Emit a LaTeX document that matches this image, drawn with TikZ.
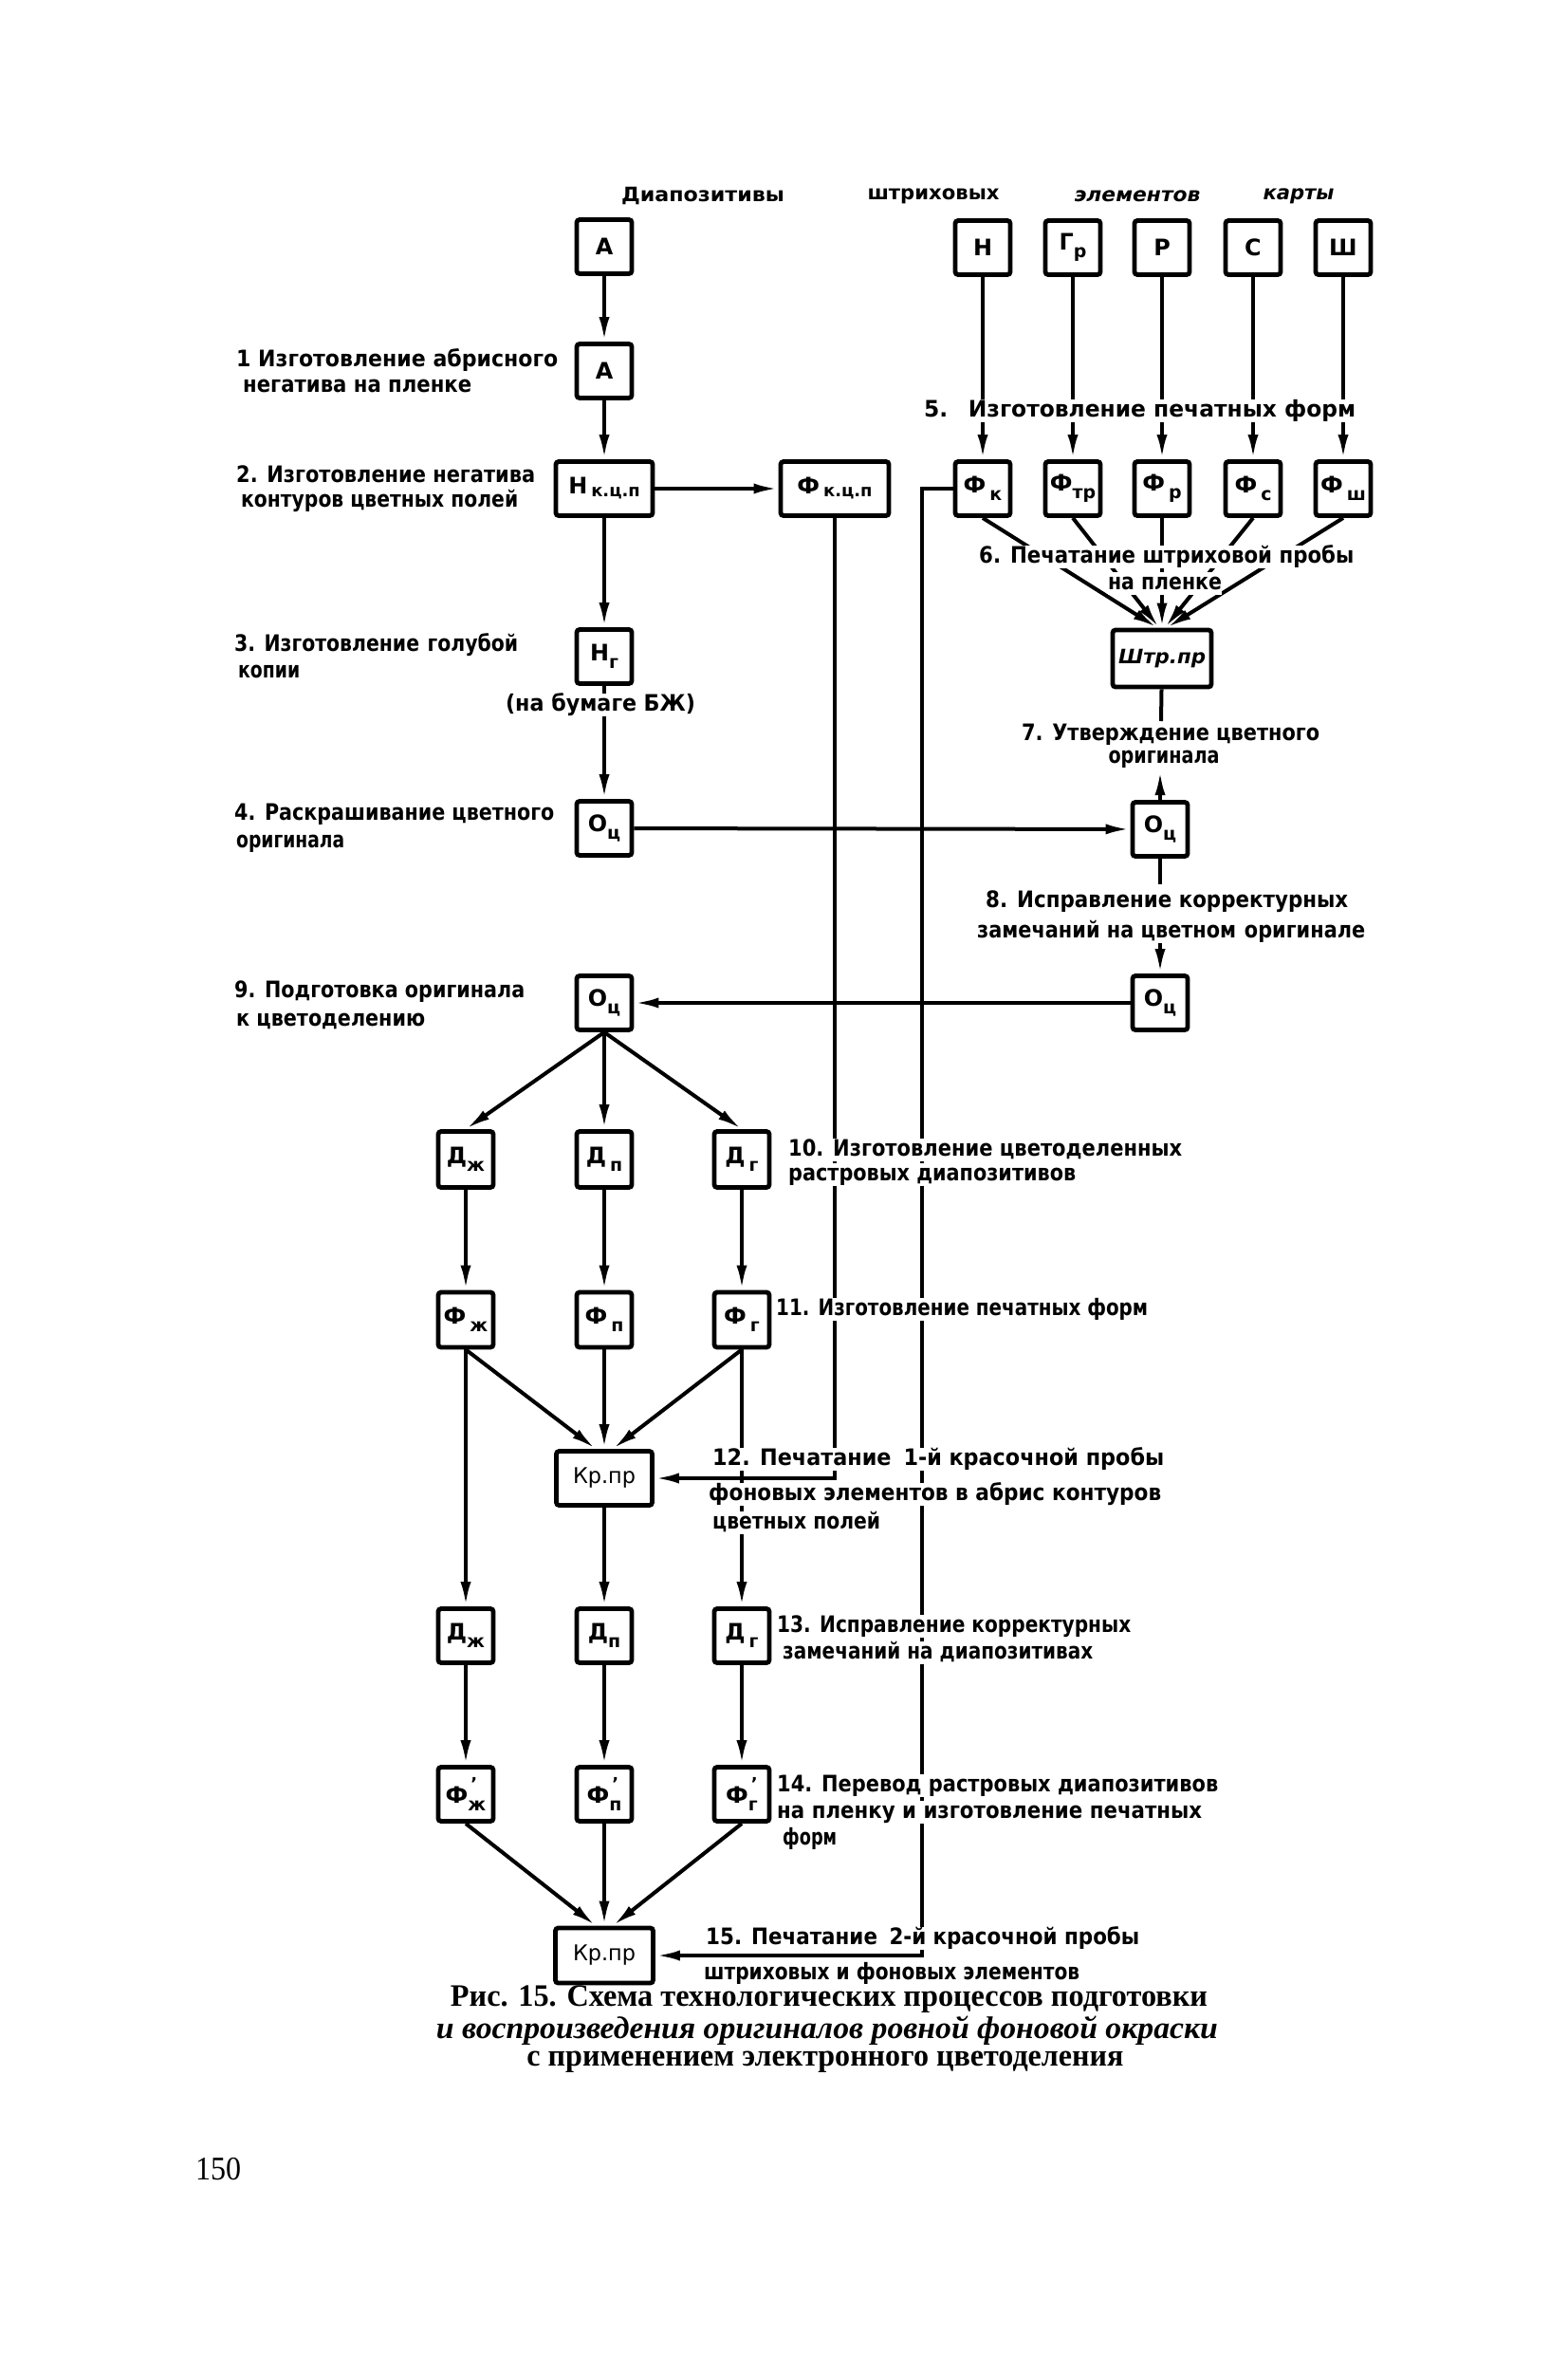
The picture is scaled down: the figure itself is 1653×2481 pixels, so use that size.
\documentclass[tikz,border=0pt]{standalone}
\usepackage{fontspec}
\usepackage{graphicx}
\setmainfont{DejaVu Sans}
\newfontfamily\capfont{Liberation Serif}
\usetikzlibrary{arrows.meta}
\newcommand\sbs[1]{\raisebox{-8bp}{\fontsize{19}{19}\selectfont #1}}
\newcommand\fw[2]{\resizebox{#1bp}{\height}{#2}}
\newcommand\prm{\rlap{\raisebox{14bp}{\fontsize{18}{18}\selectfont\kern3bp'}}}
\begin{document}
\begin{tikzpicture}[x=1bp,y=-1bp,
  bx/.style={draw, line width=4.8bp, rounded corners=3bp, minimum width=58bp,
    minimum height=57bp, inner sep=1bp, font=\fontsize{24}{24}\selectfont\bfseries},
  ln/.style={line width=4bp},
  arr/.style={line width=4bp, -{Latex[length=26bp,width=11bp]}},
  lbl/.style={fill=white, inner sep=0pt, text height=18bp, text depth=5.5bp,
    font=\fontsize{24}{24}\selectfont\bfseries},
  hdr/.style={inner sep=0pt, font=\fontsize{21}{21}\selectfont\bfseries},
  captxt/.style={inner sep=0pt, font=\capfont\bfseries\fontsize{33}{33}\selectfont}]
\fill[white] (0,0) rectangle (1653,2481);
\useasboundingbox (0,0) rectangle (1653,2481);

% header words
\node[hdr] (h1) at (741,207) {\fw{172}{Диапозитивы}};
\node[hdr] (h2) at (984,207) {\fw{139}{штриховых}};
\node[hdr] (h3) at (1199,207) {\fw{133}{\itshape элементов}};
\node[hdr] (h4) at (1369,207) {\fw{75}{\itshape карты}};

% left column boxes
\node[bx] (A1) at (637,260) {А};
\node[bx] (A2) at (637,391) {А};
\node[bx, minimum width=102bp] (Nkcp) at (637,515) {Н\,\raisebox{-3bp}{\fontsize{18}{18}\selectfont к.ц.п}};
\node[bx, minimum width=114bp] (Fkcp) at (880,515) {Ф\,\raisebox{-3bp}{\fontsize{18}{18}\selectfont к.ц.п}};
\node[bx] (Ng) at (637,692) {Н\sbs{г}};
\node[bx] (Oc4) at (637,873) {О\sbs{ц}};
\node[bx] (Oc9) at (637,1057) {О\sbs{ц}};

% top right boxes
\node[bx] (H) at (1036,261) {Н};
\node[bx] (Gr) at (1131,261) {Г\sbs{р}};
\node[bx] (R) at (1225,261) {Р};
\node[bx] (S) at (1321,261) {С};
\node[bx] (Sh) at (1416,261) {Ш};
\node[bx] (Fk) at (1036,515) {Ф\,\sbs{к}};
\node[bx] (Ftr) at (1131,515) {Ф\sbs{тр}};
\node[bx] (Fr) at (1225,515) {Ф\,\sbs{р}};
\node[bx] (Fs) at (1321,515) {Ф\,\sbs{с}};
\node[bx] (Fsh) at (1416,515) {Ф\,\sbs{ш}};
\node[bx, minimum width=104bp, minimum height=60bp, font=\fontsize{21}{21}\selectfont\bfseries\itshape] (Shtr) at (1225,694) {\fw{92}{Штр.пр}};
\node[bx] (R1) at (1223,874) {О\sbs{ц}};
\node[bx] (R2) at (1223,1057) {О\sbs{ц}};

% lower part
\node[bx, minimum height=59bp] (Dzh) at (491,1222) {Д\sbs{ж}};
\node[bx, minimum height=59bp] (Dp) at (637,1222) {Д\,\sbs{п}};
\node[bx, minimum height=59bp] (Dg) at (782,1222) {Д\,\sbs{г}};
\node[bx, minimum height=58bp] (Fzh) at (491,1391) {Ф\,\sbs{ж}};
\node[bx, minimum height=58bp] (Fp) at (637,1391) {Ф\,\sbs{п}};
\node[bx, minimum height=58bp] (Fg) at (782,1391) {Ф\,\sbs{г}};
\node[bx, minimum width=101bp, font=\fontsize{23}{23}\selectfont] (Kr1) at (637,1558) {\fw{66}{Кр.пр}};
\node[bx] (Dzh2) at (491,1724) {Д\sbs{ж}};
\node[bx] (Dp2) at (637,1724) {Д\sbs{п}};
\node[bx] (Dg2) at (782,1724) {Д\,\sbs{г}};
\node[bx] (Fzh2) at (491,1891) {Ф\prm\sbs{ж}};
\node[bx] (Fp2) at (637,1891) {Ф\prm\sbs{п}};
\node[bx] (Fg2) at (782,1891) {Ф\prm\sbs{г}};
\node[bx, minimum width=103bp, minimum height=58bp, font=\fontsize{23}{23}\selectfont] (Kr2) at (637,2061) {\fw{66}{Кр.пр}};

% coordinates
\coordinate (c1) at (972,515);
\coordinate (c7a) at (1224,760);
\coordinate (c7b) at (1223,812);
\coordinate (c8a) at (1223,932);
\coordinate (c8b) at (1223,993);

% connectors
\draw[arr] (A1) -- (A2);
\draw[arr] (A2) -- (Nkcp);
\draw[arr] (Nkcp) -- (Fkcp);
\draw[arr] (Nkcp) -- (Ng);
\draw[arr] (Ng) -- (Oc4);
\draw[arr] (Oc4) -- (R1);
\draw[arr] (H) -- (Fk);
\draw[arr] (Gr) -- (Ftr);
\draw[arr] (R) -- (Fr);
\draw[arr] (S) -- (Fs);
\draw[arr] (Sh) -- (Fsh);
\draw[arr] (Fk.south) -- ([xshift=-5bp]Shtr.north);
\draw[arr] (Ftr.south) -- ([xshift=-3bp]Shtr.north);
\draw[arr] (Fr.south) -- (Shtr.north);
\draw[arr] (Fs.south) -- ([xshift=3bp]Shtr.north);
\draw[arr] (Fsh.south) -- ([xshift=5bp]Shtr.north);
\draw[ln] (Shtr) -- (c7a);
\draw[arr] (R1) -- (c7b);
\draw[ln] (R1) -- (c8a);
\draw[arr] (c8b) -- (R2);
\draw[arr] (R2) -- (Oc9);
\draw[arr] (Fkcp.south) |- (Kr1.east);
\draw[arr] (Fk.west) -- (c1) |- (Kr2.east);
\draw[arr] (Oc9.south) -- (Dzh.north);
\draw[arr] (Oc9) -- (Dp);
\draw[arr] (Oc9.south) -- (Dg.north);
\draw[arr] (Dzh) -- (Fzh);
\draw[arr] (Dp) -- (Fp);
\draw[arr] (Dg) -- (Fg);
\draw[arr] (Fzh.south) -- ([xshift=-9bp]Kr1.north);
\draw[arr] (Fp) -- (Kr1);
\draw[arr] (Fg.south) -- ([xshift=9bp]Kr1.north);
\draw[arr] (Fzh) -- (Dzh2);
\draw[arr] (Kr1) -- (Dp2);
\draw[arr] (Fg) -- (Dg2);
\draw[arr] (Dzh2) -- (Fzh2);
\draw[arr] (Dp2) -- (Fp2);
\draw[arr] (Dg2) -- (Fg2);
\draw[arr] (Fzh2.south) -- ([xshift=-9bp]Kr2.north);
\draw[arr] (Fp2) -- (Kr2);
\draw[arr] (Fg2.south) -- ([xshift=9bp]Kr2.north);

% left labels
\node[lbl,anchor=west] (l1a) at (249,380) {\fw{339}{1 Изготовление абрисного}};
\node[lbl,anchor=west] (l1b) at (256,407) {\fw{241}{негатива на пленке}};
\node[lbl,anchor=west] (l2a) at (249,502) {\fw{315}{2. Изготовление негатива}};
\node[lbl,anchor=west] (l2b) at (254,528) {\fw{292}{контуров цветных полей}};
\node[lbl,anchor=west] (l3a) at (247,680) {\fw{299}{3. Изготовление\hspace{10bp}голубой}};
\node[lbl,anchor=west] (l3b) at (251,708) {\fw{65}{копии}};
\node[lbl] (lbj) at (633,743) {\fw{200}{(на бумаге\hspace{8bp}БЖ)}};
\node[lbl,anchor=west] (l4a) at (247,858) {\fw{337}{4. Раскрашивание цветного}};
\node[lbl,anchor=west] (l4b) at (249,887) {\fw{114}{оригинала}};
\node[lbl,anchor=west] (l9a) at (247,1045) {\fw{306}{9. Подготовка оригинала}};
\node[lbl,anchor=west] (l9b) at (249,1075) {\fw{199}{к цветоделению}};

% right labels
\node[lbl,anchor=west] (l5) at (974,433) {\fw{455}{5.\hspace{22bp}Изготовление печатных форм}};
\node[lbl,anchor=west] (l6a) at (1032,587) {\fw{395}{6. Печатание штриховой пробы}};
\node[lbl] (l6b) at (1228,615) {\fw{120}{на пленке}};
\node[lbl,anchor=west] (l7a) at (1077,774) {\fw{314}{7. Утверждение цветного}};
\node[lbl] (l7b) at (1227,798) {\fw{117}{оригинала}};
\node[lbl,anchor=west] (l8a) at (1039,950) {\fw{382}{8. Исправление корректурных}};
\node[lbl,anchor=west] (l8b) at (1030,982) {\fw{409}{замечаний на цветном\hspace{10bp}оригинале}};
\node[lbl,anchor=west] (l10a) at (831,1212) {\fw{415}{10. Изготовление цветоделенных}};
\node[lbl,anchor=west] (l10b) at (831,1238) {\fw{303}{растровых диапозитивов}};
\node[lbl,anchor=west] (l11) at (818,1380) {\fw{392}{11. Изготовление печатных форм}};
\node[lbl,anchor=west] (l12a) at (751,1538) {\fw{476}{12. Печатание\hspace{14bp}1-й\hspace{8bp}красочной пробы}};
\node[lbl,anchor=west] (l12b) at (747,1575) {\fw{477}{фоновых элементов в абрис контуров}};
\node[lbl,anchor=west] (l12c) at (751,1605) {\fw{177}{цветных полей}};
\node[lbl,anchor=west] (l13a) at (819,1714) {\fw{373}{13. Исправление корректурных}};
\node[lbl,anchor=west] (l13b) at (825,1742) {\fw{327}{замечаний на диапозитивах}};
\node[lbl,anchor=west] (l14a) at (819,1882) {\fw{465}{14. Перевод растровых диапозитивов}};
\node[lbl,anchor=west] (l14b) at (819,1910) {\fw{448}{на пленку и изготовление печатных}};
\node[lbl,anchor=west] (l14c) at (825,1938) {\fw{57}{форм}};
\node[lbl,anchor=west] (l15a) at (744,2043) {\fw{457}{15. Печатание\hspace{14bp}2-й\hspace{8bp}красочной пробы}};
\node[lbl,anchor=west] (l15b) at (742,2080) {\fw{396}{штриховых и фоновых элементов}};

% caption
\node[captxt] (cap1) at (874,2107) {\fw{798}{Рис. 15. Схема технологических процессов подготовки}};
\node[captxt] (cap2) at (872,2140) {\fw{824}{\itshape и воспроизведения оригиналов ровной фоновой окраски}};
\node[captxt] (cap3) at (870,2173) {\fw{629}{с применением электронного цветоделения}};
\node[inner sep=0pt, font=\capfont\fontsize{35}{35}\selectfont] (page) at (230,2286) {\fw{48}{150}};
\end{tikzpicture}
\end{document}
